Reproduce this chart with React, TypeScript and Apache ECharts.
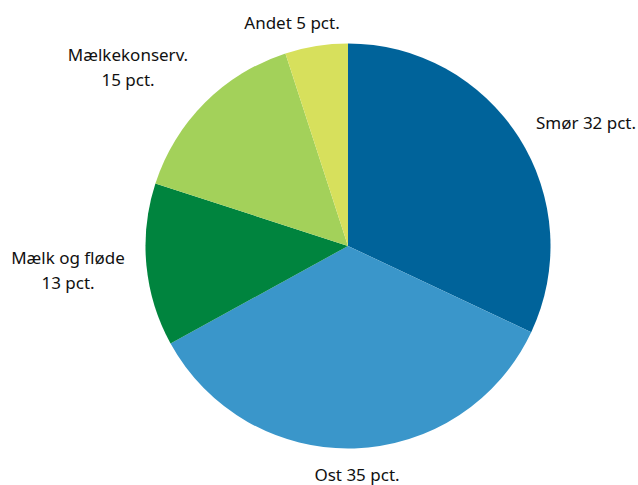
import React, { useEffect, useRef } from "react";
import * as echarts from "echarts";

const categories = ["Smør", "Ost", "Mælk og fløde", "Mælkekonserv.", "Andet"];
const values = [32, 35, 13, 15, 5];
const labelTexts = ["Smør 32 pct.", "Ost 35 pct.", "Mælk og fløde\n13 pct.", "Mælkekonserv.\n15 pct.", "Andet 5 pct."];
const colors = ["#00639a", "#3a96ca", "#00843e", "#a3d15a", "#d7e05c"];

const labelCenters: [number, number][] = [
  [586, 122],
  [357, 474],
  [68, 270],
  [128, 67],
  [292, 22],
];

export default function App() {
  const ref = useRef<HTMLDivElement>(null);
  useEffect(() => {
    const chart = echarts.init(ref.current!, null, { renderer: "svg" });
    chart.setOption({
      animation: false,
      series: [
        {
          type: "pie",
          center: [348, 246],
          radius: 202.5,
          startAngle: 90,
          clockwise: true,
          avoidLabelOverlap: false,
          data: categories.map((name, i) => ({
            name,
            value: values[i],
            itemStyle: { color: colors[i] },
          })),
          label: {
            show: true,
            position: "outside",
            formatter: (p: any) => labelTexts[p.dataIndex],
            fontFamily: "Noto Sans",
            fontSize: 17,
            lineHeight: 25,
            color: "#111111",
            align: "center",
          },
          labelLine: { show: false },
          labelLayout: (p: any) => ({
            x: labelCenters[p.dataIndex][0],
            y: labelCenters[p.dataIndex][1],
            align: "center",
            verticalAlign: "middle",
          }),
          emphasis: { disabled: true },
        },
      ],
    });
    return () => chart.dispose();
  }, []);
  return (
    <div
      ref={ref}
      style={{ position: "fixed", left: 0, top: 0, width: 638, height: 485, background: "#fff" }}
    />
  );
}
